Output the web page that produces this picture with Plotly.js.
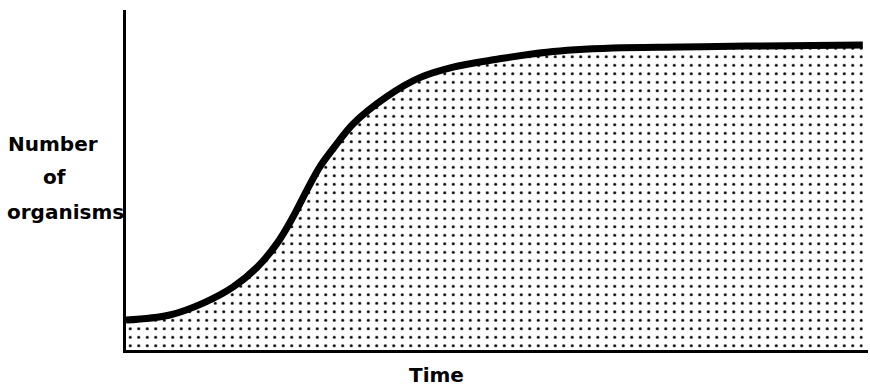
<!DOCTYPE html>
<html>
<head>
<meta charset="utf-8">
<script src="https://cdn.plot.ly/plotly-3.0.1.min.js"></script>
<style>html,body{margin:0;padding:0;background:#fff;}#chart{width:870px;height:391px;}</style>
</head>
<body>
<div id="chart"></div>
<script>
// Time (arbitrary units) and number of organisms (arbitrary units)
var time = [0, 5.9, 10.4, 14.4, 17.7, 20.4, 22.5, 24.4, 26.1, 28.4, 30.6, 35.2, 39.6, 44.1, 50.0, 56.7, 65.6, 74.7, 83.7, 99.3];
var organisms = [8.8, 10.3, 13.8, 18.5, 24.4, 31.5, 39.1, 47.1, 53.8, 60.6, 66.5, 74.6, 80.1, 83.2, 85.5, 87.6, 88.8, 89.1, 89.4, 89.7];
var yLabelLines = ["Number", "of", "organisms"];
var xLabel = "Time";

var trace = {
  x: time,
  y: organisms,
  type: "scatter",
  mode: "lines",
  line: {color: "#000", width: 7, shape: "spline", smoothing: 1},
  fill: "tozeroy",
  fillcolor: "#fff",
  fillpattern: {shape: ".", size: 8.5, solidity: 0.1, fgcolor: "#000", bgcolor: "#fff", fgopacity: 1},
  hoverinfo: "skip"
};

var labelFont = {family: "DejaVu Sans, sans-serif", size: 20, color: "#000", weight: "bold"};
var lineX = [-0.098, -0.096, -0.082];
var lineY = [0.606, 0.509, 0.406];

var annotations = yLabelLines.map(function (t, i) {
  return {text: t, xref: "paper", yref: "paper", x: lineX[i], y: lineY[i], xanchor: "center", yanchor: "middle", showarrow: false, font: labelFont};
});
annotations.push({text: xLabel, xref: "paper", yref: "paper", x: 0.418, y: -0.074, xanchor: "center", yanchor: "middle", showarrow: false, font: labelFont});

var layout = {
  width: 870, height: 391,
  margin: {l: 126, r: 2, t: 10, b: 41},
  paper_bgcolor: "#fff", plot_bgcolor: "#fff",
  showlegend: false,
  xaxis: {range: [0, 100], showline: true, linecolor: "#000", linewidth: 3, showgrid: false, zeroline: false, showticklabels: false, ticks: ""},
  yaxis: {range: [0, 100], showline: true, linecolor: "#000", linewidth: 3, showgrid: false, zeroline: false, showticklabels: false, ticks: ""},
  annotations: annotations
};

Plotly.newPlot("chart", [trace], layout, {staticPlot: true, displayModeBar: false});
</script>
</body>
</html>
